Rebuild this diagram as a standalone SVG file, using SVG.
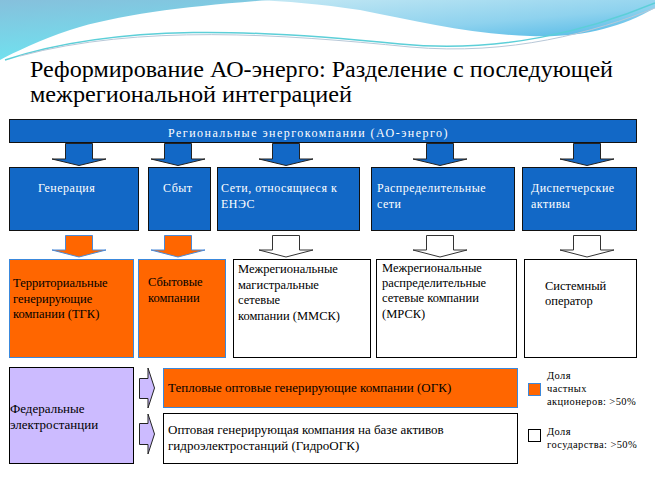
<svg xmlns="http://www.w3.org/2000/svg" width="655" height="481" viewBox="0 0 655 481" font-family="'Liberation Serif', 'DejaVu Serif', 'Times New Roman', serif">
<defs>
<linearGradient id="gL" x1="0" y1="0" x2="0.3" y2="1">
<stop offset="0" stop-color="#86c0dc"/><stop offset="1" stop-color="#6fe3f0"/>
</linearGradient>
<linearGradient id="gR" x1="0" y1="0" x2="1" y2="1">
<stop offset="0" stop-color="#c4e8f4"/><stop offset="0.6" stop-color="#8ed2ee"/><stop offset="1" stop-color="#4fb8e6"/>
</linearGradient>
<style>
.blue{fill:#1268c6;stroke:#111;stroke-width:1}
.org{fill:#ff6600;stroke:#3a88dc;stroke-width:1}
.wht{fill:#fff;stroke:#000;stroke-width:1}
.lav{fill:#ccbbff;stroke:#000;stroke-width:1}
.abl{fill:#1268c6;stroke:#222;stroke-width:1}
.aor{fill:#ff6600;stroke:#4a8ad8;stroke-width:1}
.awh{fill:#fff;stroke:#333;stroke-width:1}
.alv{fill:#ccbbff;stroke:#222;stroke-width:1}
.tw{font-size:12px;fill:#fff;letter-spacing:0.5px}
.tb{font-size:12.5px;fill:#000}
.tm{font-size:13px;fill:#000}
.tl{font-size:10.5px;fill:#000;letter-spacing:0.4px}
.title{font-size:24px;fill:#000}
</style>
</defs>
<rect width="655" height="481" fill="#fff"/>
<g id="background">
<path d="M0,0 H270 C190,6 120,14 70,30 C40,40 15,52 0,60 Z" fill="url(#gL)"/>
<path d="M255,0 H655 V8 C620,28 580,38 530,36 C470,34 420,22 360,10 C320,4 285,1 255,0 Z" fill="url(#gR)"/>
<path d="M5,60 C120,22 260,30 400,44 C500,54 590,30 655,3" fill="none" stroke="#5ccfd8" stroke-width="1.5"/>
<path d="M20,56 C140,24 280,34 410,47 C510,56 595,32 655,8" fill="none" stroke="#b8c8d8" stroke-width="1"/>
</g>
<g id="title">
<text class="title" x="30" y="77" textLength="583" lengthAdjust="spacingAndGlyphs">Реформирование АО-энерго: Разделение с последующей</text>
<text class="title" x="30" y="102" textLength="322" lengthAdjust="spacingAndGlyphs">межрегиональной интеграцией</text>
</g>
<g id="regional">
<rect class="blue" x="9.5" y="119.5" width="627" height="23"/>
<text class="tw" x="168" y="137" font-size="13" textLength="280" lengthAdjust="spacing">Региональные энергокомпании (АО-энерго)</text>
</g>
<g id="connectors">
<polygon class="abl" points="65.5,143.5 92.5,143.5 92.5,159 106,159 79,165.5 52,159 65.5,159"/>
<polygon class="abl" points="164.5,143.5 191.5,143.5 191.5,159 205,159 178,165.5 151,159 164.5,159"/>
<polygon class="abl" points="272.5,143.5 299.5,143.5 299.5,159 313,159 286,165.5 259,159 272.5,159"/>
<polygon class="abl" points="426.5,143.5 453.5,143.5 453.5,159 467,159 440,165.5 413,159 426.5,159"/>
<polygon class="abl" points="573.5,143.5 600.5,143.5 600.5,159 614,159 587,165.5 560,159 573.5,159"/>
<polygon class="aor" points="65.5,235.5 92.5,235.5 92.5,250 106,250 79,257 52,250 65.5,250"/>
<polygon class="aor" points="164.5,235.5 191.5,235.5 191.5,250 205,250 178,257 151,250 164.5,250"/>
<polygon class="awh" points="272.5,235.5 299.5,235.5 299.5,250 313,250 286,257 259,250 272.5,250"/>
<polygon class="awh" points="426.5,235.5 453.5,235.5 453.5,250 467,250 440,257 413,250 426.5,250"/>
<polygon class="awh" points="573.5,235.5 600.5,235.5 600.5,250 614,250 587,257 560,250 573.5,250"/>
<polygon class="alv" points="139.5,378.5 148,378.5 148,368 154.5,388 148,408 148,398.5 139.5,398.5"/>
<polygon class="alv" points="139.5,423.5 148,423.5 148,414 154.5,434 148,454 148,444.5 139.5,444.5"/>
</g>
<g id="gen">
<rect class="blue" x="9.5" y="167.5" width="129" height="63"/>
<text class="tw" x="38" y="192">Генерация</text>
</g>
<g id="sbyt">
<rect class="blue" x="148.5" y="167.5" width="62" height="63"/>
<text class="tw" x="163" y="192">Сбыт</text>
</g>
<g id="enes">
<rect class="blue" x="217.5" y="167.5" width="142" height="63"/>
<text class="tw" x="221" y="192">Сети, относящиеся к</text>
<text class="tw" x="221" y="208">ЕНЭС</text>
</g>
<g id="distr">
<rect class="blue" x="371.5" y="167.5" width="143" height="63"/>
<text class="tw" x="377" y="192">Распределительные</text>
<text class="tw" x="377" y="208">сети</text>
</g>
<g id="disp">
<rect class="blue" x="522.5" y="167.5" width="114" height="63"/>
<text class="tw" x="531" y="192">Диспетчерские</text>
<text class="tw" x="531" y="208">активы</text>
</g>
<g id="tgk">
<rect class="org" x="9.5" y="259.5" width="124" height="98"/>
<text class="tb" x="13" y="287">Территориальные</text>
<text class="tb" x="13" y="302.5">генерирующие</text>
<text class="tb" x="13" y="318">компании (ТГК)</text>
</g>
<g id="sbytcomp">
<rect class="org" x="138.5" y="259.5" width="87" height="98"/>
<text class="tb" x="148" y="286">Сбытовые</text>
<text class="tb" x="148" y="301.5">компании</text>
</g>
<g id="mmsk">
<rect class="wht" x="233.5" y="259.5" width="137" height="98"/>
<text class="tb" x="238" y="273">Межрегиональные</text>
<text class="tb" x="238" y="289">магистральные</text>
<text class="tb" x="238" y="304">сетевые</text>
<text class="tb" x="238" y="320">компании (ММСК)</text>
</g>
<g id="mrsk">
<rect class="wht" x="376.5" y="259.5" width="140" height="98"/>
<text class="tb" x="382" y="272">Межрегиональные</text>
<text class="tb" x="382" y="287">распределительные</text>
<text class="tb" x="382" y="302">сетевые компании</text>
<text class="tb" x="382" y="318">(МРСК)</text>
</g>
<g id="so">
<rect class="wht" x="524.5" y="259.5" width="112" height="98"/>
<text class="tb" x="545" y="290">Системный</text>
<text class="tb" x="545" y="305">оператор</text>
</g>
<g id="federal">
<rect class="lav" x="9.5" y="367.5" width="124" height="96"/>
<text class="tm" x="10" y="413">Федеральные</text>
<text class="tm" x="10" y="429">электростанции</text>
</g>
<g id="ogk">
<rect class="org" x="163.5" y="368.5" width="354" height="39"/>
<text class="tm" x="168" y="392">Тепловые оптовые генерирующие компании (ОГК)</text>
</g>
<g id="gidroogk">
<rect class="wht" x="163.5" y="413.5" width="354" height="50"/>
<text class="tm" x="168" y="434">Оптовая генерирующая компания на базе активов</text>
<text class="tm" x="168" y="450">гидроэлектростанций (ГидроОГК)</text>
</g>
<g id="legend">
<rect class="org" x="528.5" y="383.5" width="12" height="12"/>
<text class="tl" x="547" y="379">Доля</text>
<text class="tl" x="547" y="392">частных</text>
<text class="tl" x="547" y="405">акционеров: &gt;50%</text>
<rect class="wht" x="528.5" y="429.5" width="12" height="12"/>
<text class="tl" x="547" y="435">Доля</text>
<text class="tl" x="547" y="448">государства: &gt;50%</text>
</g>
</svg>
